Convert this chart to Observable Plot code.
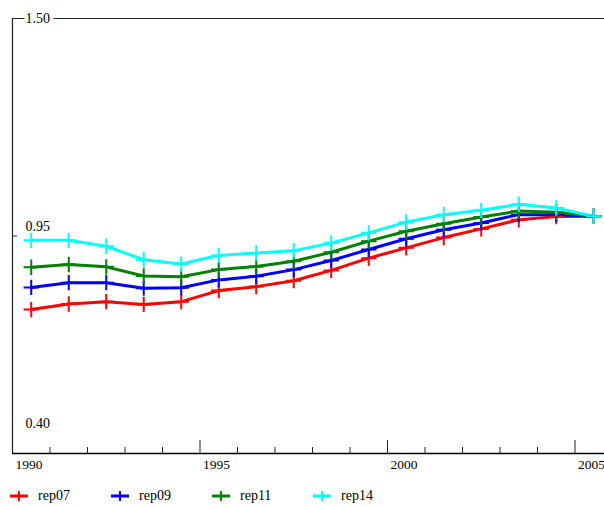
<!DOCTYPE html>
<html>
<head>
<meta charset="utf-8">
<script src="https://cdn.jsdelivr.net/npm/d3@7"></script>
<script src="https://cdn.jsdelivr.net/npm/@observablehq/plot@0.6"></script>
<style>
  body { margin: 0; background: #fff; font-family: 'Liberation Serif', 'Times New Roman', 'DejaVu Serif', serif; }
  #legend { display: flex; padding-left: 10px; margin-top: 6px; font-size: 14px; height: 20px; align-items: center; }
  .item { display: flex; align-items: center; width: 101px; }
  .item svg { margin-right: 10px; }
  svg text { font-family: 'Liberation Serif', 'Times New Roman', 'DejaVu Serif', serif !important; }
</style>
</head>
<body>
<div id="chart"></div>
<div id="legend"></div>
<script>
const years = [1990,1991,1992,1993,1994,1995,1996,1997,1998,1999,2000,2001,2002,2003,2004,2005];
const seriesNames = ["rep07","rep09","rep11","rep14"];
const colors = ["#ff0000","#0000ff","#008000","#00ffff"];
const rep07 = [0.764,0.778,0.784,0.777,0.784,0.812,0.822,0.837,0.863,0.894,0.920,0.946,0.968,0.991,0.999,1.000];
const rep09 = [0.820,0.832,0.832,0.818,0.819,0.839,0.848,0.865,0.888,0.916,0.943,0.966,0.983,1.004,1.004,1.000];
const rep11 = [0.871,0.878,0.872,0.849,0.847,0.865,0.873,0.886,0.909,0.937,0.962,0.981,0.998,1.013,1.010,1.000];
const rep14 = [0.939,0.939,0.924,0.890,0.879,0.901,0.907,0.913,0.932,0.958,0.985,1.004,1.015,1.030,1.021,1.000];
const yTicks = [0.40, 0.95, 1.50];
const yTickLabels = ["0.40", "0.95", "1.50"];
const xLabelTicks = [1990, 1995, 2000, 2005];
const xLabels = ["1990", "1995", "2000", "2005"];

const seriesValues = [rep07, rep09, rep11, rep14];
const data = [];
seriesNames.forEach((s, i) => years.forEach((y, j) => data.push({series: s, year: y, value: seriesValues[i][j]})));

const W = 604, H = 480, mt = 18, mb = 27, ml = 12;
const innerH = H - mt - mb;
const labelDy = {"1.50": 0, "0.95": -9, "0.40": -30};
const font = "'Liberation Serif', 'Times New Roman', serif";

const plot = Plot.plot({
  width: W, height: H,
  marginTop: mt, marginBottom: mb, marginLeft: ml, marginRight: 0,
  style: `font-family: ${font}; font-size: 14px; color: #000; background: #fff;`,
  x: {domain: [1990, 1990 + (W - ml) / 37.5], axis: null},
  y: {domain: [0.40, 1.50], axis: null},
  color: {domain: seriesNames, range: colors},
  marks: [
    Plot.ruleY([1.50], {stroke: "#222", strokeWidth: 1}),
    Plot.ruleY([0.40], {stroke: "#000", strokeWidth: 1.5}),
    Plot.ruleX([1990], {stroke: "#222", strokeWidth: 1.2}),
    Plot.ruleY([0.95], {stroke: "#222", insetRight: (W - ml) - 5}),
    Plot.ruleX(years.filter(y => y % 5 !== 0), {stroke: "#222", insetTop: innerH - 6}),
    Plot.ruleX(xLabelTicks, {stroke: "#222", insetTop: innerH - 13}),
    Plot.text(xLabelTicks, {x: d => d, frameAnchor: "bottom", text: (d, i) => xLabels[i], textAnchor: "start", dx: 3, dy: 15, fill: "#000", fontSize: 13.5}),
    Plot.text(yTicks, {y: d => d, frameAnchor: "left", text: (d, i) => yTickLabels[i], textAnchor: "start", dx: 13,
      fill: "#000", stroke: "white", strokeWidth: 8, fontSize: 14}),
    Plot.line(data, {x: d => d.year + 0.5, y: "value", z: "series", stroke: "series", strokeWidth: 3, strokeLinejoin: "round"}),
    Plot.dot(data, {x: d => d.year + 0.5, y: "value", stroke: "series", symbol: "plus", r: 5, strokeWidth: 2})
  ]
});
d3.select(plot).selectAll("text").each(function() {
  const t = this.textContent;
  if (t in labelDy && labelDy[t] !== 0) {
    d3.select(this).attr("transform", (this.getAttribute("transform") || "") + ` translate(0,${labelDy[t]})`);
  }
});
document.getElementById("chart").appendChild(plot);

const legend = document.getElementById("legend");
seriesNames.forEach((s, i) => {
  const item = document.createElement("div");
  item.className = "item";
  item.innerHTML = `<svg width="18" height="14"><line x1="0" y1="7" x2="18" y2="7" stroke="${colors[i]}" stroke-width="3"/><line x1="9" y1="2" x2="9" y2="12" stroke="${colors[i]}" stroke-width="2"/></svg><span>${s}</span>`;
  legend.appendChild(item);
});
</script>
</body>
</html>
